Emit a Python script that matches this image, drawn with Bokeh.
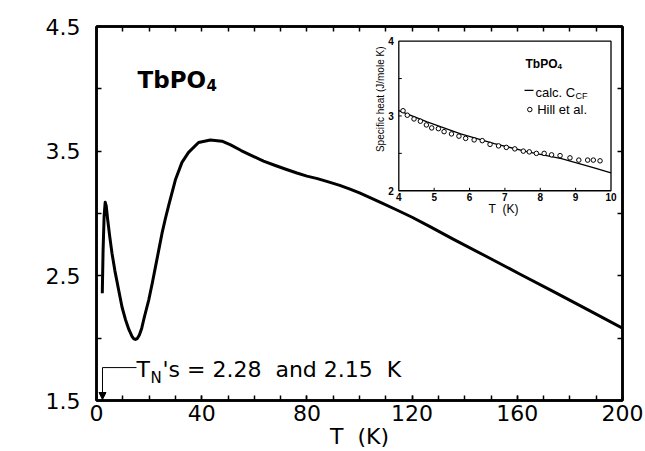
from bokeh.plotting import figure
from bokeh.models import Range1d, FixedTicker, LinearAxis, Label, Arrow, NormalHead
from bokeh.core.properties import value
from bokeh.embed import file_html
from bokeh.resources import INLINE

# ---------------- data ----------------
T_main = [2.2, 2.5, 2.9, 3.3, 3.7, 4.2, 5.0, 5.9, 7.0, 8.2, 9.7, 11.0, 12.3, 13.5,
          14.2, 14.8, 15.5, 16.3, 17.2, 18.2, 19.9, 21.2, 22.4, 23.7, 24.9, 26.2,
          27.5, 30.0, 32.5, 35.0, 38.8, 43.3, 47.7, 51.0, 55.0, 59.0, 63.5, 68.0,
          72.0, 76.2, 80.0, 84.0, 88.8, 92.5, 96.4, 100.0, 104.0, 109.0, 114.0,
          120.0, 126.8, 135.6, 148.3, 160.9, 173.6, 186.2, 200.0]
C_main = [2.36, 2.70, 2.98, 3.09, 3.06, 2.96, 2.82, 2.68, 2.54, 2.41, 2.25, 2.15,
          2.07, 2.015, 1.995, 1.99, 1.997, 2.025, 2.08, 2.17, 2.31, 2.44, 2.57, 2.71,
          2.84, 2.96, 3.07, 3.27, 3.41, 3.49, 3.57, 3.59, 3.58, 3.55, 3.505, 3.465,
          3.42, 3.385, 3.355, 3.325, 3.30, 3.28, 3.25, 3.226, 3.196, 3.165, 3.128,
          3.08, 3.03, 2.97, 2.895, 2.795, 2.655, 2.515, 2.375, 2.235, 2.08]

x_ticks = [0, 40, 80, 120, 160, 200]
x_minor = list(range(0, 201, 10))
y_ticks = [1.5, 2.5, 3.5, 4.5]
y_minor = [2.0, 3.0, 4.0]
T_N = 2.28

inset_x_ticks = [4, 5, 6, 7, 8, 9, 10]
inset_y_ticks = [2, 3, 4]
inset_y_minor = [2.5, 3.0, 3.5]
calc_T = [4.0, 4.8, 5.75, 6.7, 7.65, 8.6, 9.5, 10.0]
calc_C = [3.07, 2.92, 2.76, 2.63, 2.52, 2.43, 2.31, 2.24]
hill_T = [4.12, 4.24, 4.43, 4.61, 4.78, 4.93, 5.12, 5.28, 5.49, 5.70, 5.89, 6.13,
          6.36, 6.58, 6.82, 7.04, 7.28, 7.52, 7.69, 7.89, 8.11, 8.32, 8.56, 8.84,
          9.09, 9.34, 9.50, 9.69]
hill_C = [3.07, 3.01, 2.96, 2.93, 2.88, 2.84, 2.83, 2.79, 2.76, 2.73, 2.70, 2.68,
          2.67, 2.62, 2.60, 2.58, 2.56, 2.53, 2.52, 2.50, 2.50, 2.48, 2.47, 2.44,
          2.41, 2.41, 2.41, 2.40]

# ---------------- layout ----------------
W, H = 645, 451
BL, BR, BT, BB = 96, 23, 26, 50
FW, FH = W - BL - BR, H - BT - BB          # frame size in px
X0, X1, Y0, Y1 = 0, 200, 1.5, 4.5

FONT = "DejaVu Sans"
IFONT = "Liberation Sans"
SP2 = "\u00a0 "   # a visible double space

p = figure(width=W, height=H, x_range=Range1d(X0, X1), y_range=Range1d(Y0, Y1),
           output_backend="svg", toolbar_location=None,
           min_border_left=BL, min_border_right=BR, min_border_top=BT,
           min_border_bottom=BB)
p.xgrid.visible = False
p.ygrid.visible = False
p.outline_line_color = "black"
p.outline_line_width = 2.5
p.background_fill_color = "white"
p.border_fill_color = "white"


def style_axis(ax):
    ax.axis_line_width = 2.5
    ax.axis_line_color = "black"
    ax.major_tick_in = 5
    ax.major_tick_out = 0
    ax.minor_tick_in = 5
    ax.minor_tick_out = 0
    ax.major_tick_line_width = 1.5
    ax.minor_tick_line_width = 1.5
    ax.major_tick_line_color = "black"
    ax.minor_tick_line_color = "black"
    ax.major_label_text_font = FONT
    ax.major_label_text_font_size = "22px"
    ax.major_label_text_color = "black"


p.xaxis.ticker = FixedTicker(ticks=x_ticks, minor_ticks=x_minor)
p.yaxis.ticker = FixedTicker(ticks=y_ticks, minor_ticks=y_minor)
style_axis(p.xaxis[0])
style_axis(p.yaxis[0])
p.xaxis.major_label_standoff = 4
p.yaxis.major_label_standoff = 16
p.xaxis.axis_label = "T" + SP2 + "(K)"
p.xaxis.axis_label_text_font = FONT
p.xaxis.axis_label_text_font_size = "22px"
p.xaxis.axis_label_text_font_style = "normal"
p.xaxis.axis_label_text_color = "black"
p.xaxis.axis_label_standoff = 0

top_ax = LinearAxis(ticker=FixedTicker(ticks=[], minor_ticks=x_minor))
right_ax = LinearAxis(ticker=FixedTicker(ticks=[], minor_ticks=y_minor + y_ticks))
style_axis(top_ax)
style_axis(right_ax)
p.add_layout(top_ax, "above")
p.add_layout(right_ax, "right")

px_x = (X1 - X0) / FW   # data units per pixel (main)
px_y = (Y1 - Y0) / FH

# main curve
p.line(T_main, C_main, line_width=3, line_color="black", line_join="round")

# y axis title
p.add_layout(Label(x=X0 - 71 * px_x, y=Y1 - 171 * px_y, text="Specific heat (J/mole K)",
                   angle=90, angle_units="deg", text_align="center",
                   text_baseline="middle", text_font=FONT, text_font_size="23px",
                   text_color="black"))

# title TbPO4
tx, ty = X0 + 41 * px_x, Y1 - 54 * px_y
p.add_layout(Label(x=tx, y=ty, text="TbPO", text_font=FONT, text_font_style="bold",
                   text_font_size="23px", text_baseline="alphabetic", text_color="black"))
p.add_layout(Label(x=tx, x_offset=69, y=ty - 5 * px_y, text="4", text_font=FONT,
                   text_font_style="bold", text_font_size="15px",
                   text_baseline="alphabetic", text_color="black"))

# T_N annotation
ay = Y0 + 33 * px_y
lx = X0 + 40 * px_x
p.segment(x0=[T_N], y0=[ay], x1=[lx], y1=[ay], line_width=1, line_color="black")
p.add_layout(Arrow(end=NormalHead(size=7, fill_color="black", line_color="black"),
                   x_start=T_N, y_start=ay, x_end=T_N, y_end=Y0 + 1 * px_y,
                   line_width=1, line_color="black"))
by = Y0 + 31 * px_y
p.add_layout(Label(x=lx, y=by, text="T", text_font=FONT, text_font_size="22px",
                   text_baseline="alphabetic", text_color="black"))
p.add_layout(Label(x=lx, x_offset=14, y=by - 8 * px_y, text="N", text_font=FONT,
                   text_font_size="15px", text_baseline="alphabetic", text_color="black"))
p.add_layout(Label(x=lx, x_offset=26, y=by,
                   text="'s = 2.28" + SP2 + "and 2.15" + SP2 + "K",
                   text_font=FONT, text_font_size="22px", text_baseline="alphabetic",
                   text_color="black"))

# ---------------- inset (own ranges on the same frame) ----------------
IX0, IX1, IY0, IY1 = 4, 10, 2, 4
# inset box as fractions of the main frame
fx0, fx1 = 302.3 / FW, 514.5 / FW
fy0, fy1 = 210.3 / FH, 360.3 / FH
sx = (IX1 - IX0) / (fx1 - fx0)
sy = (IY1 - IY0) / (fy1 - fy0)
p.extra_x_ranges = {"ix": Range1d(IX0 - fx0 * sx, IX0 - fx0 * sx + sx)}
p.extra_y_ranges = {"iy": Range1d(IY0 - fy0 * sy, IY0 - fy0 * sy + sy)}
ipx_x = sx / FW
ipx_y = sy / FH
R = dict(x_range_name="ix", y_range_name="iy")

p.quad(left=[IX0], right=[IX1], bottom=[IY0], top=[IY1], fill_color="white",
       line_color="black", line_width=1.3, **R)
# inset ticks
p.segment(x0=inset_x_ticks[1:-1], y0=[IY0] * 5, x1=inset_x_ticks[1:-1],
          y1=[IY0 + 3 * ipx_y] * 5, line_color="black", line_width=1, **R)
p.segment(x0=[IX0] * 3, y0=inset_y_minor, x1=[IX0 + 3 * ipx_x] * 3, y1=inset_y_minor,
          line_color="black", line_width=1, **R)

p.line(calc_T, calc_C, line_width=1.3, line_color="black", **R)
p.scatter(hill_T, hill_C, marker="circle", size=4.5, fill_color="white",
          line_color="black", line_width=1, **R)

# inset tick labels
p.text(x=inset_x_ticks, y=[IY0 - 2 * ipx_y] * len(inset_x_ticks),
       text=[str(v) for v in inset_x_ticks], text_align="center", text_baseline="top",
       text_font=value(IFONT), text_font_style="bold", text_font_size="10px",
       text_color="black", **R)
p.text(x=[IX0 - 5 * ipx_x] * 3, y=inset_y_ticks, text=[str(v) for v in inset_y_ticks],
       text_align="right", text_baseline="middle", text_font=value(IFONT),
       text_font_style="bold", text_font_size="10px", text_color="black", **R)

# inset axis titles
p.text(x=[IX0 - 18.3 * ipx_x], y=[IY1 - 58.3 * ipx_y], text=["Specific heat (J/mole K)"],
       angle=1.5708, text_align="center", text_baseline="middle", text_font=value(IFONT),
       text_font_size="10px", text_color="black", **R)
p.text(x=[IX0 + 104.7 * ipx_x], y=[IY0 - 18 * ipx_y], text=["T" + SP2 + "(K)"],
       text_align="center", text_baseline="middle", text_font=value(IFONT),
       text_font_size="12px", text_color="black", **R)

# inset legend
lgx = IX0 + 126.7 * ipx_x
p.text(x=[lgx], y=[IY1 - 22.6 * ipx_y], text=["TbPO"], text_baseline="alphabetic",
       text_font=value(IFONT), text_font_style="bold", text_font_size="12px",
       text_color="black", **R)
p.text(x=[lgx], x_offset=32, y=[IY1 - 25.6 * ipx_y], text=["4"], text_baseline="alphabetic",
       text_font=value(IFONT), text_font_style="bold", text_font_size="8px",
       text_color="black", **R)
ly1 = IY1 - 49.3 * ipx_y
p.segment(x0=[lgx - 1 * ipx_x], y0=[ly1], x1=[lgx + 8 * ipx_x], y1=[ly1],
          line_color="black", line_width=1.3, **R)
p.text(x=[lgx + 10 * ipx_x], y=[IY1 - 51 * ipx_y], text=["calc. C"], text_baseline="middle",
       text_font=value(IFONT), text_font_size="13px", text_color="black", **R)
p.text(x=[lgx + 10 * ipx_x], x_offset=40, y=[IY1 - 55 * ipx_y], text=["CF"],
       text_baseline="middle", text_font=value(IFONT), text_font_size="9px",
       text_color="black", **R)
ly2 = IY1 - 68.6 * ipx_y
p.scatter(x=[lgx + 4.3 * ipx_x], y=[ly2], marker="circle", size=4.5, fill_color="white",
          line_color="black", line_width=1, **R)
p.text(x=[lgx + 11.7 * ipx_x], y=[ly2], text=["Hill et al."], text_baseline="middle",
       text_font=value(IFONT), text_font_size="13px", text_color="black", **R)

open("out.html", "w").write(file_html(p, INLINE))
